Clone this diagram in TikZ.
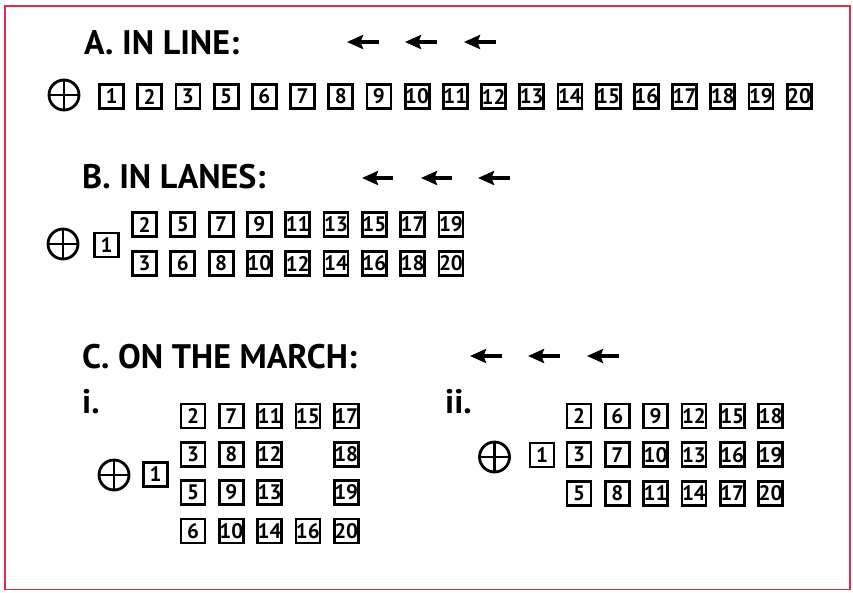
\documentclass[tikz,border=0pt]{standalone}
\usepackage{fontspec}
\setmainfont{PT Sans}
\usetikzlibrary{arrows.meta}
\definecolor{framecol}{RGB}{228,40,72}
\begin{document}
\begin{tikzpicture}[x=1pt,y=-1pt,
  box/.style={draw,line width=2.8pt,minimum size=24pt,inner sep=0pt,
    font=\bfseries\fontsize{21}{21}\selectfont},
  head/.style={anchor=base west,inner sep=0pt,font=\bfseries\fontsize{34}{34}\selectfont},
  dirarrow/.style={line width=3.2pt,-{Stealth[length=16pt,width=14pt,inset=2.5pt]}},
  origin/.style={circle,draw,line width=2.8pt,minimum size=30pt,inner sep=0pt,
    path picture={\draw[line width=2.8pt]
      (path picture bounding box.north) -- (path picture bounding box.south)
      (path picture bounding box.east) -- (path picture bounding box.west);}},
  ]
\useasboundingbox (0,0) rectangle (853,592);
\draw[framecol,line width=1.5pt] (5,6) rectangle (850,589.5);

% ---------- A ----------
\node[head] (ha) at (84,54) {A. IN LINE:};
\foreach \t/\h [count=\k] in {379/347,437/405,496/464}{
  \coordinate (at\k) at (\t,42);
  \coordinate (ah\k) at (\h,42);
  \draw[dirarrow] (at\k) -- (ah\k);
}
\node[origin] (oa) at (64,95) {};
\foreach \l [count=\i from 0] in {1,2,3,5,6,7,8,9,10,11,12,13,14,15,16,17,18,19,20}
  \node[box] (a\l) at ({111.5+38.2*\i},96.5) {\l};

% ---------- B ----------
\node[head] (hb) at (82,188) {B. IN LANES:};
\foreach \t/\h [count=\k] in {393/362,452/421,510/478}{
  \coordinate (bt\k) at (\t,178);
  \coordinate (bh\k) at (\h,178);
  \draw[dirarrow] (bt\k) -- (bh\k);
}
\node[origin] (ob) at (63,244) {};
\node[box] (b1) at (106.5,245) {1};
\foreach \l [count=\i from 0] in {2,5,7,9,11,13,15,17,19}
  \node[box] (b\l) at ({144.5+38.3*\i},224.5) {\l};
\foreach \l [count=\i from 0] in {3,6,8,10,12,14,16,18,20}
  \node[box] (b\l) at ({144.5+38.3*\i},263.5) {\l};

% ---------- C ----------
\node[head] (hc) at (82,368) {C. ON THE MARCH:};
\foreach \t/\h [count=\k] in {502/470,560/528,619/587}{
  \coordinate (ct\k) at (\t,356);
  \coordinate (ch\k) at (\h,356);
  \draw[dirarrow] (ct\k) -- (ch\k);
}

% i.
\node[head] (hci) at (82,413) {i.};
\node[origin] (oci) at (114,475) {};
\node[box] (ci1) at (155.5,474.5) {1};
\foreach \l/\c/\r in {2/0/0,3/0/1,5/0/2,6/0/3,
                      7/1/0,8/1/1,9/1/2,10/1/3,
                      11/2/0,12/2/1,13/2/2,14/2/3,
                      15/3/0,16/3/3,
                      17/4/0,18/4/1,19/4/2,20/4/3}
  \node[box] (ci\l) at ({193+38.3*\c},{416+38.3*\r}) {\l};

% ii.
\node[head] (hcii) at (445,413) {ii.};
\node[origin] (ocii) at (494.5,457) {};
\node[box] (cii1) at (542,455) {1};
\foreach \l/\c/\r in {2/0/0,3/0/1,5/0/2,
                      6/1/0,7/1/1,8/1/2,
                      9/2/0,10/2/1,11/2/2,
                      12/3/0,13/3/1,14/3/2,
                      15/4/0,16/4/1,17/4/2,
                      18/5/0,19/5/1,20/5/2}
  \node[box] (cii\l) at ({579+38.3*\c},{416+38.7*\r}) {\l};
\end{tikzpicture}
\end{document}
